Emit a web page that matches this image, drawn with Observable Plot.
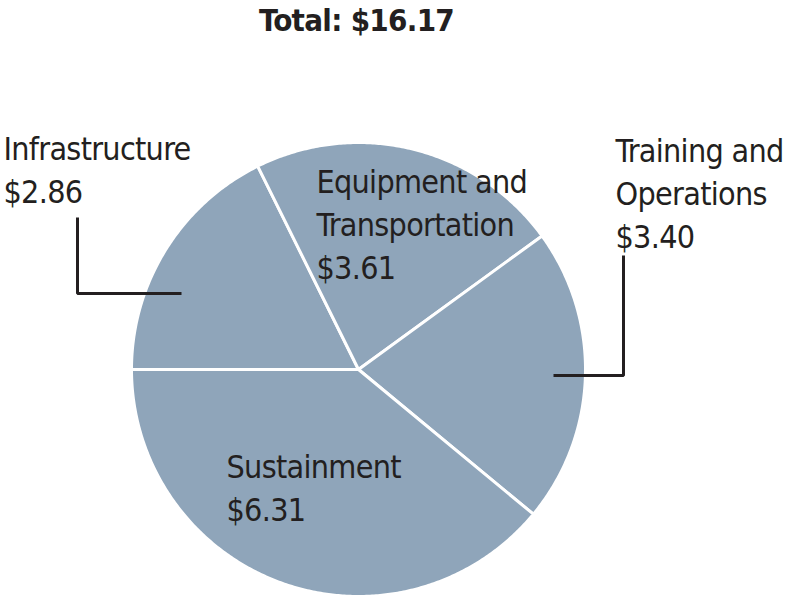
<!DOCTYPE html>
<html>
<head>
<meta charset="utf-8">
<script src="https://cdn.jsdelivr.net/npm/d3@7"></script>
<script src="https://cdn.jsdelivr.net/npm/@observablehq/plot@0.6"></script>
<style>
  html, body { margin: 0; padding: 0; background: #fff; }
  svg { display: block; }
  svg text { font-stretch: condensed; letter-spacing: -0.7px; }
</style>
</head>
<body>
<div id="chart"></div>
<script>
// ---- data ----
const categories = ["Infrastructure", "Equipment and\nTransportation", "Training and\nOperations", "Sustainment"];
const values = [2.86, 3.61, 3.40, 6.31];
const valueLabels = ["$2.86", "$3.61", "$3.40", "$6.31"];
const totalLabel = "Total: $16.17";

// ---- layout (pixel space) ----
const W = 794, H = 595;
const cx = 358, cy = 369, R = 227;
const font = "'DejaVu Sans Condensed', 'Liberation Sans Narrow', sans-serif";
const ink = "#231f20";
const fillColor = "#8fa5ba";
// label anchor = baseline of last line, left edge
const labelPos = [
  {x: 3, y: 202},
  {x: 316, y: 278},
  {x: 615, y: 247},
  {x: 226, y: 520}
];
const leaders = [
  [[77, 217], [77, 293], [181, 293]],
  null,
  [[623, 255], [623, 375], [553, 375]],
  null
];

// ---- slices from pie angles ----
const pie = d3.pie().sort(null).startAngle(-Math.PI / 2).endAngle(3 * Math.PI / 2);
const arcs = pie(values);
const slicePts = [];
arcs.forEach((a, i) => {
  slicePts.push({k: i, x: cx, y: cy});
  const n = Math.max(2, Math.ceil((a.endAngle - a.startAngle) / (Math.PI / 360)));
  for (let j = 0; j <= n; j++) {
    const t = a.startAngle + (a.endAngle - a.startAngle) * j / n;
    slicePts.push({k: i, x: cx + R * Math.sin(t), y: cy - R * Math.cos(t)});
  }
});

const labels = categories.map((c, i) => ({text: c + "\n" + valueLabels[i], ...labelPos[i]}));
const leaderPts = [];
leaders.forEach((L, i) => { if (L) L.forEach(([x, y]) => leaderPts.push({k: i, x, y})); });

const chart = Plot.plot({
  width: W, height: H,
  margin: 0,
  x: {domain: [0, W], axis: null},
  y: {domain: [H, 0], axis: null},
  style: {background: "#fff", fontFamily: font},
  marks: [
    Plot.line(slicePts, {x: "x", y: "y", z: "k", curve: "linear-closed", fill: fillColor, stroke: "white", strokeWidth: 3, strokeLinejoin: "round"}),
    Plot.line(leaderPts, {x: "x", y: "y", z: "k", stroke: ink, strokeWidth: 3, strokeLinejoin: "miter", strokeLinecap: "butt"}),
    Plot.text(labels, {x: "x", y: "y", text: "text", textAnchor: "start", lineAnchor: "bottom", lineHeight: 1.34, fontSize: 32, fill: ink, fontFamily: font}),
    Plot.text([totalLabel], {x: 356, y: 30, text: d => d, textAnchor: "middle", lineAnchor: "bottom", fontSize: 31, fontWeight: "bold", fill: ink, fontFamily: font})
  ]
});
document.getElementById("chart").appendChild(chart);
</script>
</body>
</html>
